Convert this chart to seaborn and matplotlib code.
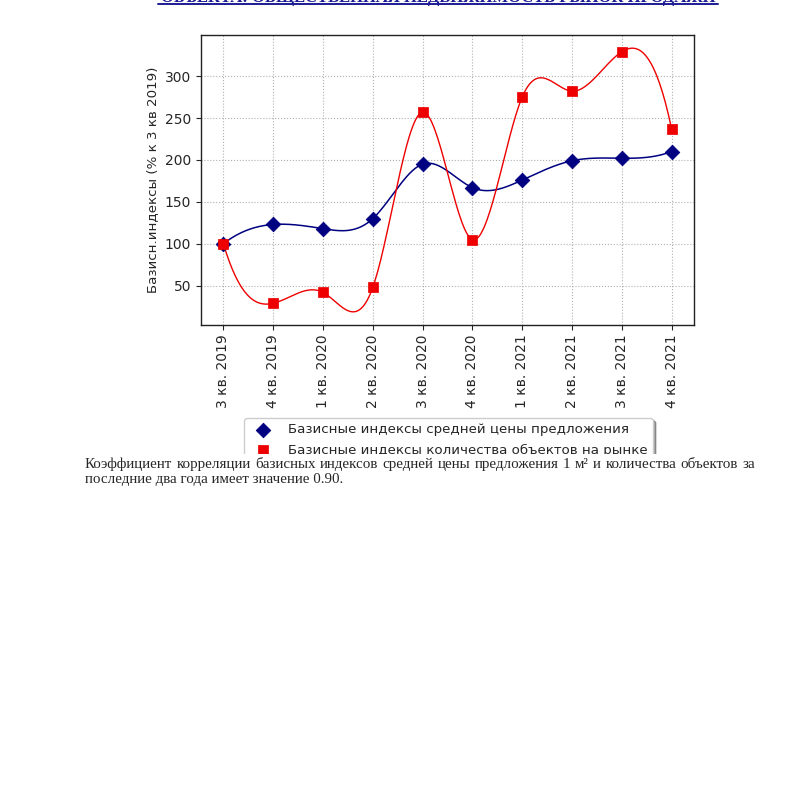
import numpy as np
import matplotlib
matplotlib.use('Agg')
import matplotlib.pyplot as plt
import seaborn as sns
from matplotlib.patches import Rectangle
from matplotlib.lines import Line2D

# Data
quarters = ['3 кв. 2019', '4 кв. 2019', '1 кв. 2020', '2 кв. 2020', '3 кв. 2020',
            '4 кв. 2020', '1 кв. 2021', '2 кв. 2021', '3 кв. 2021', '4 кв. 2021']
price_index = [100, 123, 118, 130, 195, 167, 176, 199, 202, 210]
count_index = [100, 29, 42, 48, 257, 105, 275, 282, 329, 237]

price_label = 'Базисные индексы средней цены предложения'
count_label = 'Базисные индексы количества объектов на рынке'
y_label = 'Базисн.индексы (% к 3 кв 2019)'
title_text = 'ОБЪЕКТА: ОБЩЕСТВЕННАЯ НЕДВИЖИМОСТЬ РЫНОК ПРОДАЖИ'
para_line1 = ('Коэффициент корреляции базисных индексов средней цены предложения '
              '1 м² и количества объектов за')
para_line2 = 'последние два года имеет значение 0.90.'

# Colors
blue = '#000080'
red = '#ee0000'
title_color = '#1c1c94'


def smooth(y, num=300):
    # not-a-knot cubic spline on equally spaced points
    y = np.asarray(y, dtype=float)
    n = len(y)
    A = np.zeros((n, n))
    b = np.zeros(n)
    A[0, :3] = [1, -2, 1]
    A[-1, -3:] = [1, -2, 1]
    for i in range(1, n - 1):
        A[i, i - 1:i + 2] = [1, 4, 1]
        b[i] = 6 * (y[i - 1] - 2 * y[i] + y[i + 1])
    M = np.linalg.solve(A, b)
    xs = np.linspace(0, n - 1, num)
    idx = np.clip(np.floor(xs).astype(int), 0, n - 2)
    t = xs - idx
    ys = ((1 - t) * y[idx] + t * y[idx + 1]
          + ((1 - t) ** 3 - (1 - t)) * M[idx] / 6
          + (t ** 3 - t) * M[idx + 1] / 6)
    return xs, ys


sns.set_style('ticks')
plt.rcParams['font.family'] = ['DejaVu Sans']

fig = plt.figure(figsize=(7.91, 7.91), dpi=100)
fig.patch.set_facecolor('white')
ax = fig.add_axes([201 / 791, 1 - 325 / 791, 493 / 791, 290 / 791])

x = np.arange(len(quarters))
xs, ys_price = smooth(price_index)
_, ys_count = smooth(count_index)

sns.lineplot(x=xs, y=ys_price, color=blue, linewidth=1.1, ax=ax, zorder=2)
sns.lineplot(x=xs, y=ys_count, color=red, linewidth=1.0, ax=ax, zorder=2)
sns.scatterplot(x=x, y=price_index, marker='D', s=55, color=blue, edgecolor=blue,
                ax=ax, zorder=3, label=price_label)
sns.scatterplot(x=x, y=count_index, marker='s', s=42, color=red, edgecolor=red,
                ax=ax, zorder=3, label=count_label)

ax.grid(True, linestyle=':', linewidth=0.8, color='#b0b0b0')
ax.set_axisbelow(True)
ax.set_xticks(x, quarters, rotation=90, fontsize=10)
ax.set_yticks([50, 100, 150, 200, 250, 300])
ax.tick_params(axis='y', labelsize=10)
ax.set_ylabel(y_label, fontsize=9.6)
ax.set_xlabel('')
for spine in ax.spines.values():
    spine.set_color('#222222')
    spine.set_linewidth(1.0)

ax.legend(loc='upper left', bbox_to_anchor=(244 / 791, 1 - 418 / 791),
          bbox_transform=fig.transFigure, borderaxespad=0, shadow=True,
          framealpha=1, fontsize=9.6, handletextpad=0.9, labelspacing=0.55)

# page background below the chart hides the bottom of the legend
fig.add_artist(Rectangle((0, 0), 1, 1 - 454 / 791, transform=fig.transFigure,
                         facecolor='white', edgecolor='none', zorder=10))

# cut-off section heading at the top of the page
fig.text(438 / 791, 1 - 1.5 / 791, title_text, ha='center', va='baseline',
         fontsize=12, fontweight='bold', family='Liberation Serif',
         color=title_color, zorder=11)
fig.add_artist(Line2D([158 / 791, 718 / 791], [1 - 3.5 / 791, 1 - 3.5 / 791],
                      transform=fig.transFigure, color=title_color, lw=1.4, zorder=11))

# justified paragraph
renderer = fig.canvas.get_renderer()
left, right = 85, 755
words = para_line1.split(' ')
texts = [fig.text(0, 1 - 468 / 791, w, ha='left', va='baseline', fontsize=10.8,
                  family='Liberation Serif', zorder=11) for w in words]
widths = [t.get_window_extent(renderer).width for t in texts]
gap = (right - left - sum(widths)) / (len(words) - 1)
pos = left
for t, w in zip(texts, widths):
    t.set_x(pos / 791)
    pos += w + gap
fig.text(left / 791, 1 - 483 / 791, para_line2, ha='left', va='baseline',
         fontsize=10.8, family='Liberation Serif', zorder=11)

plt.savefig('out.png', dpi=100)
